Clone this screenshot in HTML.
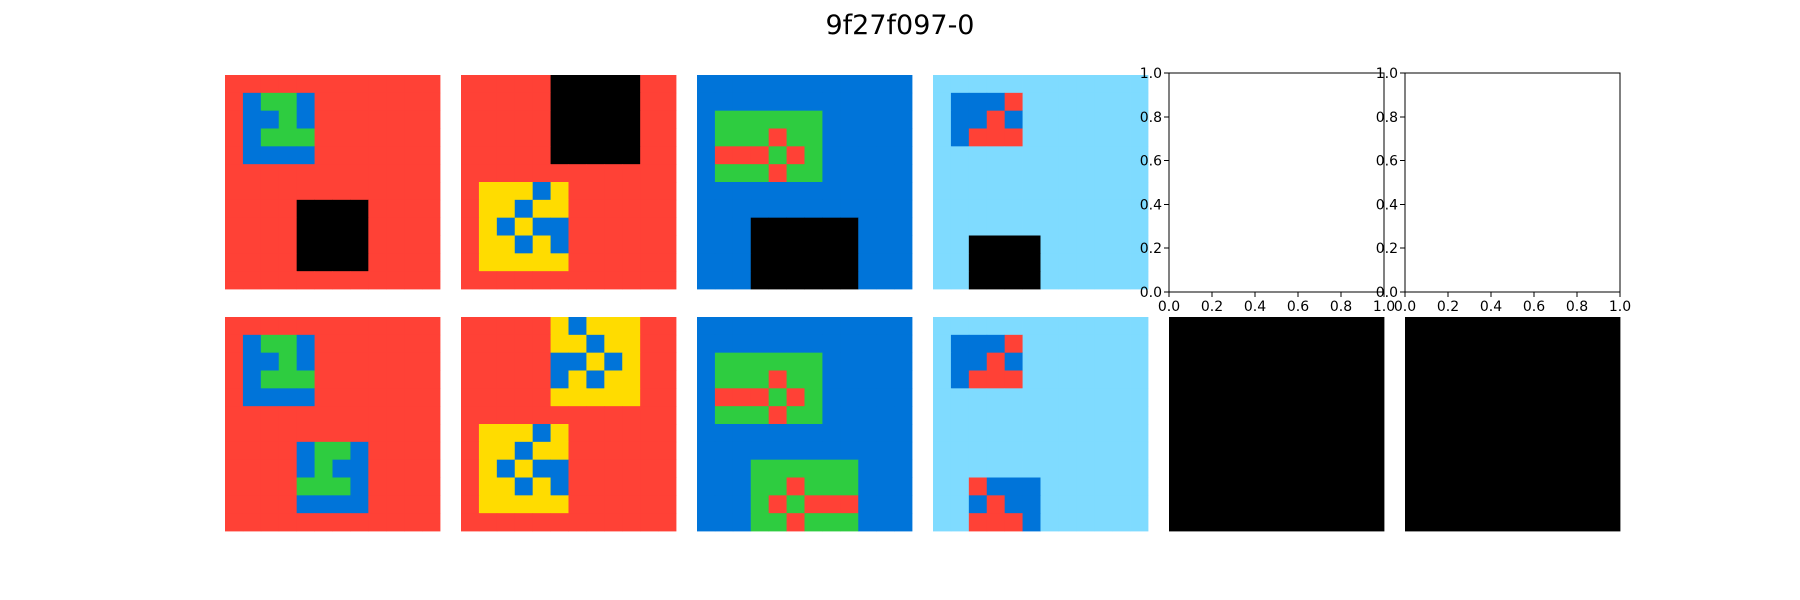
<!DOCTYPE html>
<html><head><meta charset="utf-8"><style>
body{margin:0;background:#fff;width:1800px;height:600px;overflow:hidden}
svg{display:block}
text{font-family:"DejaVu Sans","Liberation Sans",sans-serif}
</style></head><body>
<svg id="chart" width="1800" height="600">
<text x="900" y="34" text-anchor="middle" font-size="27" fill="#000">9f27f097-0</text>
</svg>
<script>
const palette=["#000000","#0074D9","#FF4136","#2ECC40","#FFDC00","#AAAAAA","#F012BE","#FF851B","#7FDBFF","#870C25"];
const inputGrids=[
["222222222222","213312222222","211312222222","213332222222","211112222222","222222222222","222222222222","222200002222","222200002222","222200002222","222200002222","222222222222"],
["222220000022","222220000022","222220000022","222220000022","222220000022","222222222222","244414222222","244144222222","241411222222","244141222222","244444222222","222222222222"],
["111111111111","111111111111","133333311111","133323311111","122232311111","133323311111","111111111111","111111111111","111000000111","111000000111","111000000111","111000000111"],
["888888888888","811128888888","811218888888","812228888888","888888888888","888888888888","888888888888","888888888888","888888888888","880000888888","880000888888","880000888888"]
];
const outputGrids=[
["222222222222","213312222222","211312222222","213332222222","211112222222","222222222222","222222222222","222213312222","222213112222","222233312222","222211112222","222222222222"],
["222224144422","222224414422","222221141422","222221414422","222224444422","222222222222","244414222222","244144222222","241411222222","244141222222","244444222222","222222222222"],
["111111111111","111111111111","133333311111","133323311111","122232311111","133323311111","111111111111","111111111111","111333333111","111332333111","111323222111","111332333111"],
["888888888888","811128888888","811218888888","812228888888","888888888888","888888888888","888888888888","888888888888","888888888888","882111888888","881211888888","882221888888"],
["0"],["0"]
];
const tickLabels=["0.0","0.2","0.4","0.6","0.8","1.0"];
const NS="http://www.w3.org/2000/svg";
const svg=document.getElementById('chart');
const colX=[225,461,697,933,1169,1405];
const W=215,H=214;
function mk(tag,attrs,parent){const e=document.createElementNS(NS,tag);for(const k in attrs)e.setAttribute(k,attrs[k]);(parent||svg).appendChild(e);return e;}
function drawGrid(grid,x0,y0,name){
  const g=mk('g',{});
  
  
  const rows=grid.length,cols=grid[0].length;
  const cw=W/cols,ch=H/rows;
  grid.forEach((row,r)=>{for(let c=0;c<cols;c++){
    const rc=mk('rect',{x:x0+c*cw,y:y0+r*ch,width:cw+0.4,height:ch+0.4,fill:palette[+row[c]]},g);
    
    
  }});
}
inputGrids.forEach((g,i)=>drawGrid(g,colX[i],75,'input-grid-'+(i+1)));
outputGrids.forEach((g,i)=>drawGrid(g,colX[i],317,'output-grid-'+(i+1)));
[4,5].forEach(i=>{
  const x0=colX[i],y0=73,w=215,h=219;
  const ax=mk('g',{'shape-rendering':'crispEdges'});
  
  
  mk('rect',{x:x0,y:y0,width:w,height:h,fill:'none',stroke:'#000','stroke-width':1},ax);
  tickLabels.forEach((t,k)=>{
    const v=+t;
    const tx=x0+v*w, ty=y0+h-v*h;
    mk('line',{x1:tx,y1:y0+h,x2:tx,y2:y0+h+5,stroke:'#000'},ax);
    const xl=mk('text',{x:tx,y:y0+h+19,'text-anchor':'middle','font-size':14},ax);
    xl.textContent=t;
    
    
    mk('line',{x1:x0-5,y1:ty,x2:x0,y2:ty,stroke:'#000'},ax);
    const yl=mk('text',{x:x0-7,y:ty+5,'text-anchor':'end','font-size':14},ax);
    yl.textContent=t;
    
    
  });
});
</script>
</body></html>
